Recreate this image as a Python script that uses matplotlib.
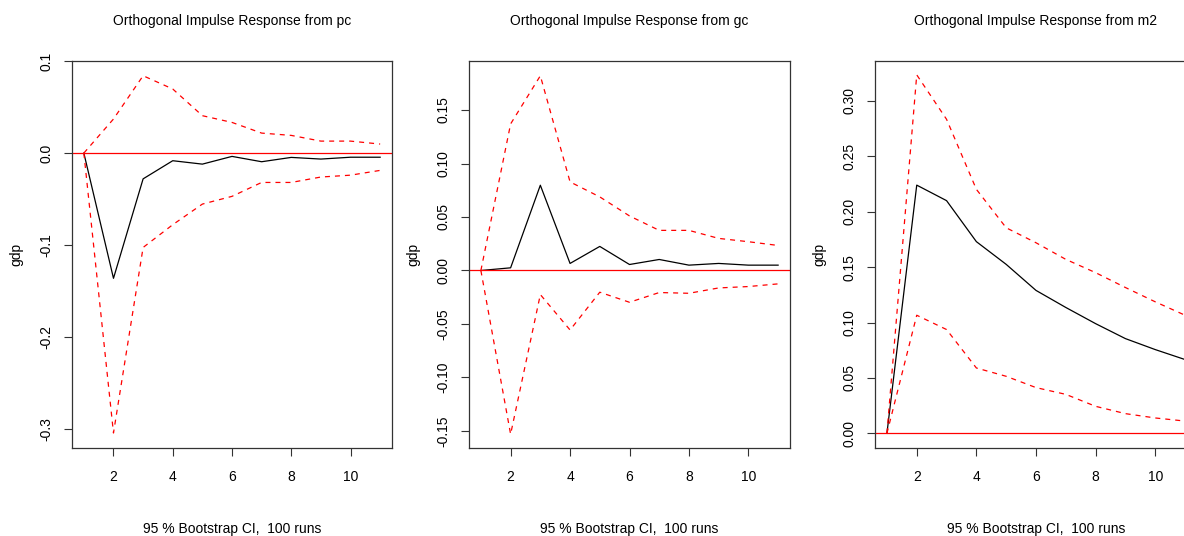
import matplotlib
matplotlib.use('Agg')
from matplotlib import pyplot as plt

plt.rcParams['font.family'] = ['Liberation Sans', 'DejaVu Sans']

steps = [1, 2, 3, 4, 5, 6, 7, 8, 9, 10, 11]
impulses = ['pc', 'gc', 'm2']

irf_pc = [0, -0.136, -0.028, -0.0083, -0.012, -0.0036, -0.0094, -0.0047, -0.0065, -0.0045, -0.0045]
upper_pc = [0, 0.037, 0.084, 0.0696, 0.0406, 0.0333, 0.0217, 0.0192, 0.013, 0.013, 0.0098]
lower_pc = [0, -0.304, -0.1025, -0.0778, -0.0554, -0.047, -0.0319, -0.0319, -0.026, -0.024, -0.0188]

irf_gc = [0, 0.0025, 0.0797, 0.0066, 0.0225, 0.0056, 0.0103, 0.005, 0.0066, 0.005, 0.005]
upper_gc = [0, 0.137, 0.182, 0.0828, 0.0688, 0.051, 0.0375, 0.0375, 0.030, 0.0269, 0.0234]
lower_gc = [0, -0.153, -0.0225, -0.0556, -0.0203, -0.0297, -0.0206, -0.0213, -0.0163, -0.015, -0.0125]

irf_m2 = [0, 0.224, 0.210, 0.173, 0.1525, 0.129, 0.1136, 0.099, 0.0855, 0.0756, 0.0666]
upper_m2 = [0, 0.3235, 0.2834, 0.2202, 0.1855, 0.172, 0.157, 0.145, 0.1316, 0.1187, 0.1066]
lower_m2 = [0, 0.1066, 0.0937, 0.059, 0.0515, 0.0413, 0.0352, 0.0244, 0.0178, 0.0139, 0.0111]

yticks_pc = [-0.3, -0.2, -0.1, 0.0, 0.1]
ytick_labels_pc = ['-0.3', '-0.2', '-0.1', '0.0', '0.1']
yticks_gc = [-0.15, -0.10, -0.05, 0.0, 0.05, 0.10, 0.15]
ytick_labels_gc = ['-0.15', '-0.10', '-0.05', '0.00', '0.05', '0.10', '0.15']
yticks_m2 = [0.0, 0.05, 0.10, 0.15, 0.20, 0.25, 0.30]
ytick_labels_m2 = ['0.00', '0.05', '0.10', '0.15', '0.20', '0.25', '0.30']
xticks = [2, 4, 6, 8, 10]

W, H = 1184, 536
fig = plt.figure(figsize=(W / 100, H / 100), dpi=100)

panels = [
    (72, 392, (-0.3203, 0.1), irf_pc, upper_pc, lower_pc, yticks_pc, ytick_labels_pc),
    (469, 790, (-0.1659, 0.1958), irf_gc, upper_gc, lower_gc, yticks_gc, ytick_labels_gc),
    (875, 1197, (-0.0132, 0.336), irf_m2, upper_m2, lower_m2, yticks_m2, ytick_labels_m2),
]
top, bottom = 61, 448
fs = 10

for name, (x0, x1, ylim, irf, up, lo, yt, ytl) in zip(impulses, panels):
    ax = fig.add_axes([x0 / W, (H - bottom) / H, (x1 - x0) / W, (bottom - top) / H])
    ax.plot(steps, irf, color='black', lw=0.9)
    ax.plot(steps, up, color='red', lw=0.9, linestyle=(0, (4, 4)))
    ax.plot(steps, lo, color='red', lw=0.9, linestyle=(0, (4, 4)))
    ax.axhline(0, color='red', lw=0.9)
    ax.set_xlim(0.6, 11.4)
    ax.set_ylim(*ylim)
    ax.set_xticks(xticks)
    ax.set_yticks(yt)
    ax.set_yticklabels(ytl, rotation=90, va='center')
    ax.tick_params(axis='both', length=5.5, width=0.8, labelsize=fs, color='#333333')
    ax.tick_params(axis='x', pad=10)
    ax.tick_params(axis='y', pad=8)
    for sp in ax.spines.values():
        sp.set_linewidth(0.9)
        sp.set_color('#333333')
    ax.set_title('Orthogonal Impulse Response from ' + name, fontsize=fs, y=1.092, pad=0)
    ax.set_xlabel('95 % Bootstrap CI,  100 runs', fontsize=fs)
    ax.xaxis.set_label_coords(0.5, -0.192)
    ax.set_ylabel('gdp', fontsize=fs)
    ax.yaxis.set_label_coords(-49 / (x1 - x0), 0.5)

fig.savefig('out.png', dpi=100)
